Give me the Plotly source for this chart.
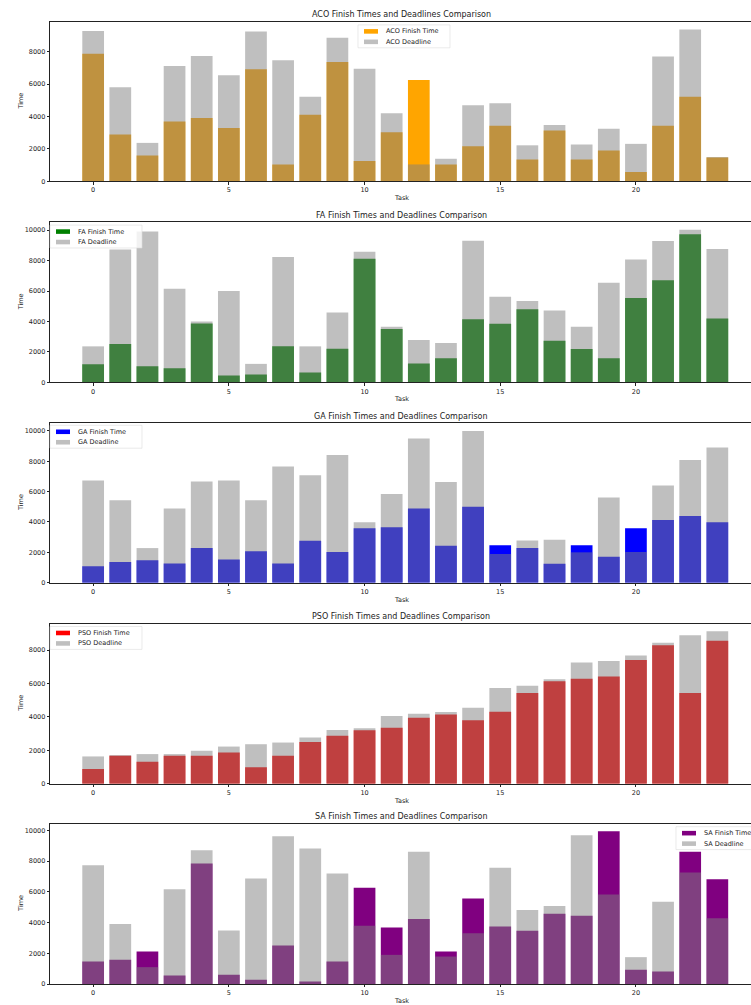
import plotly.graph_objects as go

# Task indices shared by every algorithm
tasks = list(range(24))

# Finish times and deadlines per algorithm
aco_finish = [7880, 2880, 1590, 3690, 3900, 3290, 6920, 1040, 4100, 7370, 1250, 3020,
              6250, 1040, 2160, 3430, 1350, 3140, 1350, 1900, 570, 3430, 5220, 1470]
aco_deadline = [9270, 5800, 2370, 7120, 7740, 6550, 9250, 7470, 5220, 8860, 6940, 4200,
                1040, 1390, 4690, 4820, 2220, 3470, 2270, 3250, 2310, 7710, 9370, 1500]

fa_finish = [1200, 2520, 1070, 940, 3870, 460, 520, 2370, 650, 2220, 8110, 3500,
             1240, 1590, 4150, 3850, 4800, 2740, 2200, 1590, 5540, 6700, 9720, 4200]
fa_deadline = [2370, 8720, 9910, 6150, 4000, 6000, 1220, 8240, 2370, 4590, 8570, 3650,
               2780, 2590, 9300, 5630, 5350, 4720, 3650, 6540, 8070, 9280, 10020, 8760]

ga_finish = [1090, 1370, 1480, 1260, 2280, 1520, 2070, 1260, 2760, 2020, 3590, 3650,
             4890, 2430, 5000, 2460, 2280, 1240, 2460, 1700, 3590, 4130, 4390, 3980]
ga_deadline = [6740, 5430, 2280, 4890, 6670, 6740, 5430, 7650, 7070, 8410, 3980, 5850,
               9500, 6630, 10000, 1890, 2780, 2830, 2000, 5610, 2020, 6410, 8090, 8910]

pso_finish = [890, 1680, 1320, 1680, 1680, 1880, 990, 1680, 2510, 2870, 3200, 3360,
              3950, 4150, 3810, 4310, 5430, 6130, 6280, 6420, 7410, 8280, 5430, 8560]
pso_deadline = [1640, 1720, 1780, 1780, 1980, 2230, 2370, 2470, 2770, 3220, 3320, 4050,
                4190, 4290, 4550, 5730, 5870, 6260, 7250, 7350, 7670, 8440, 8890, 9130]

sa_finish = [1470, 1580, 2120, 560, 7840, 600, 280, 2500, 170, 1470, 6260, 3670,
             4230, 2120, 5570, 3740, 3460, 4580, 4450, 9930, 930, 820, 8600, 6820]
sa_deadline = [7730, 3910, 1100, 6160, 8700, 3480, 6870, 9610, 8810, 7190, 3800, 1900,
               8600, 1790, 3300, 7560, 4820, 5080, 9680, 5830, 1750, 5360, 7260, 4280]

x_ticks = [0, 5, 10, 15, 20]

panels = [
    ("ACO", aco_finish, aco_deadline, "#FFA500"),
    ("FA", fa_finish, fa_deadline, "#008000"),
    ("GA", ga_finish, ga_deadline, "#0000FF"),
    ("PSO", pso_finish, pso_deadline, "#FF0000"),
    ("SA", sa_finish, sa_deadline, "#800080"),
]

DEADLINE_COLOR = "#808080"
DEADLINE_ALPHA = 0.5

W, H = 751, 1005
FONT = "DejaVu Sans"
INK = "#222"

# Pixel boxes of the five axes (top, bottom) and the shared left edge
boxes = [(22, 182), (223, 384), (425, 585), (626, 787), (827, 988)]
left_px = 50
# Legend frame (left px, top px) per panel
legend_pos = [(358, 25), (50, 226), (50, 427), (50, 629), (676, 830)]
LEG_W, LEG_H = 92, 23


def fx(px):
    return px / W


def fy(py):
    return 1 - py / H


fig = go.Figure()
annotations = []
shapes = []


def paper_rect(x0, y0, x1, y1, **kw):
    shapes.append(dict(type="rect", xref="paper", yref="paper",
                       x0=fx(x0), x1=fx(x1), y0=fy(y1), y1=fy(y0), **kw))


def paper_text(text, x, y, size, xanchor="center", angle=0):
    annotations.append(dict(
        text=text, x=fx(x), y=fy(y), xref="paper", yref="paper",
        showarrow=False, textangle=angle, xanchor=xanchor, yanchor="middle",
        font=dict(family=FONT, size=size, color=INK),
    ))


for i, (name, finish, deadline, color) in enumerate(panels):
    n = "" if i == 0 else str(i + 1)
    xa, ya = "x" + n, "y" + n
    fig.add_trace(go.Bar(
        x=tasks, y=finish, name=f"{name} Finish Time", marker_color=color,
        marker_line_width=0, width=0.8, xaxis=xa, yaxis=ya, showlegend=False,
    ))
    fig.add_trace(go.Bar(
        x=tasks, y=deadline, name=f"{name} Deadline", marker_color=DEADLINE_COLOR,
        opacity=DEADLINE_ALPHA, marker_line_width=0, width=0.8, xaxis=xa, yaxis=ya,
        showlegend=False,
    ))

    top, bot = boxes[i]
    ymax = max(max(finish), max(deadline)) * 1.05
    axis_common = dict(
        showline=True, linecolor=INK, linewidth=0.7, ticks="outside",
        ticklen=2.5, tickwidth=0.7, tickcolor=INK, showgrid=False,
        zeroline=False, tickfont=dict(family=FONT, size=6.5, color=INK),
    )
    fig.update_layout({
        "xaxis" + n: dict(
            domain=[fx(left_px), 1], range=[-1.59, 24.24], anchor=ya,
            tickvals=x_ticks, mirror=True, **axis_common,
        ),
        "yaxis" + n: dict(
            domain=[fy(bot), fy(top)], range=[0, ymax], anchor=xa,
            dtick=2000, tickformat="d", **axis_common,
        ),
    })

    paper_text(f"{name} Finish Times and Deadlines Comparison", 401, top - 7, 8)
    paper_text("Task", 401, bot + 17, 6.5)
    paper_text("Time", 21, (top + bot) / 2, 6.5, angle=-90)

    # Legend: frame, colour swatches and labels
    lx, ly = legend_pos[i]
    paper_rect(lx, ly, lx + LEG_W, ly + LEG_H, fillcolor="rgba(255,255,255,0.8)",
               line=dict(color="#dcdcdc", width=0.6))
    rows = [(f"{name} Finish Time", color, 1.0), (f"{name} Deadline", DEADLINE_COLOR, DEADLINE_ALPHA)]
    for r, (label, c, a) in enumerate(rows):
        cy = ly + 6.5 + r * 10.5
        paper_rect(lx + 6, cy - 2.3, lx + 20, cy + 2.3, fillcolor=c, opacity=a,
                   line=dict(width=0))
        paper_text(label, lx + 26, cy, 6.5, xanchor="left")

fig.update_layout(
    width=W, height=H, barmode="overlay", showlegend=False,
    margin=dict(l=0, r=0, t=0, b=0),
    paper_bgcolor="white", plot_bgcolor="white",
    annotations=annotations, shapes=shapes,
)

fig.write_html("out.html")
